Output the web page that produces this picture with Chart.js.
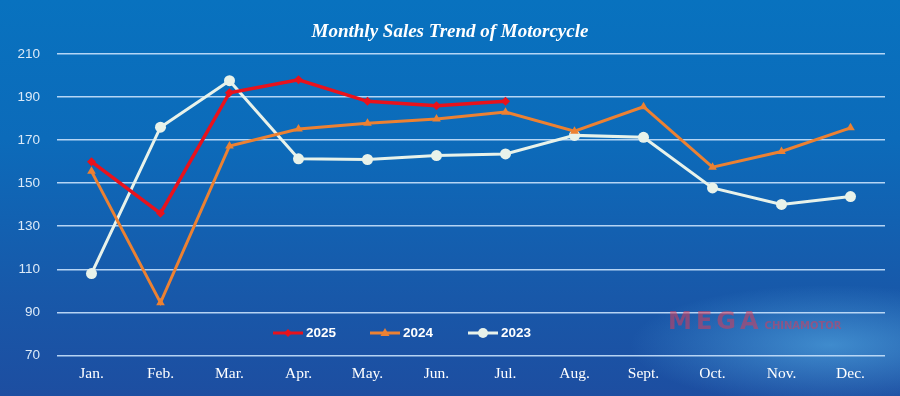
<!DOCTYPE html>
<html>
<head>
<meta charset="utf-8">
<script src="https://cdn.jsdelivr.net/npm/chart.js@4/dist/chart.umd.min.js"></script>
<style>
  html,body{margin:0;padding:0;}
  body{width:900px;height:396px;overflow:hidden;position:relative;
    background:
      radial-gradient(ellipse 200px 60px at 830px 345px, rgba(100,195,245,0.5), rgba(100,195,245,0) 100%),
      linear-gradient(180deg,#0872bf 0%,#0c6bba 35%,#1858a9 75%,#1d4ea1 100%);}
  #wrap{position:absolute;left:0;top:0;width:900px;height:396px;}
  #title{position:absolute;left:0;top:20px;width:900px;text-align:center;color:#fff;
    font-family:"Liberation Serif","DejaVu Serif",serif;font-weight:bold;font-style:italic;font-size:19px;}
  #legend{position:absolute;left:0;top:324px;height:18px;width:900px;}
  .li{position:absolute;top:0;height:18px;}
  .li span{position:absolute;top:0;font-family:"Liberation Sans",Arial,sans-serif;font-weight:bold;font-size:13.5px;color:#fff;line-height:18px;}
  #wm{position:absolute;left:668px;top:307px;color:rgba(215,60,90,0.55);font-family:"DejaVu Sans",sans-serif;white-space:nowrap;}
  #wm b{font-size:24px;letter-spacing:4px;font-weight:bold;}
  #wm i{font-style:normal;font-size:10px;font-weight:bold;margin-left:2px;letter-spacing:0px;}
</style>
</head>
<body>
<div id="wrap"><canvas id="c" width="900" height="396"></canvas></div>
<div id="title">Monthly Sales Trend of Motorcycle</div>
<div id="wm"><b>MEGA</b><i>CHINAMOTOR</i></div>
<div id="legend"></div>
<script>
const months = ["Jan.","Feb.","Mar.","Apr.","May.","Jun.","Jul.","Aug.","Sept.","Oct.","Nov.","Dec."];
const seriesNames = ["2025","2024","2023"];
const sales2025 = [160,136,192,198,188,186,188,null,null,null,null,null];
const sales2024 = [155.5,94.5,167.3,175.2,177.8,179.8,183,174.1,185.5,157.4,164.7,175.7];
const sales2023 = [108,176,197.6,161.3,161,162.8,163.6,172.2,171.3,147.8,140.1,143.8];
const yTicks = [70,90,110,130,150,170,190,210];

const colors = ["#e8121c","#ec8132","#e8f2ea"];
const styles = ["rectRot","triangle","circle"];

const datasets = [
  {label:seriesNames[0],data:sales2025,borderColor:colors[0],backgroundColor:colors[0],borderWidth:3.5,pointStyle:styles[0],pointRadius:4.5,pointBorderWidth:0,tension:0,spanGaps:false},
  {label:seriesNames[1],data:sales2024,borderColor:colors[1],backgroundColor:colors[1],borderWidth:3,pointStyle:styles[1],pointRadius:5,pointBorderWidth:0,tension:0},
  {label:seriesNames[2],data:sales2023,borderColor:colors[2],backgroundColor:colors[2],borderWidth:3,pointStyle:styles[2],pointRadius:5.5,pointBorderWidth:0,tension:0}
];

new Chart(document.getElementById('c'),{
  type:'line',
  data:{labels:months,datasets:datasets},
  options:{
    responsive:false,animation:false,
    layout:{padding:{top:54,right:15,bottom:4,left:0}},
    plugins:{legend:{display:false},title:{display:false},tooltip:{enabled:false}},
    scales:{
      x:{offset:true,
        grid:{display:false,drawTicks:false},border:{display:false},
        ticks:{color:"#ffffff",padding:9,font:{family:"'Liberation Serif','Times New Roman',serif",size:15.5},maxRotation:0,autoSkip:false}},
      y:{min:70,max:210,
        afterBuildTicks:(s)=>{s.ticks=yTicks.map(v=>({value:v}));},
        afterFit:(s)=>{s.width=57;},
        grid:{color:"rgba(200,225,252,0.9)",lineWidth:1.5,drawTicks:false},
        border:{display:false},
        ticks:{color:"#dceaf8",padding:17,font:{family:"'Liberation Sans',Arial,sans-serif",size:13.5}}}
    }
  }
});

// HTML legend built from the series names
const legendPos = [273,370,468];
const lg = document.getElementById('legend');
seriesNames.forEach((n,i)=>{
  const d = document.createElement('div');
  d.className='li';
  d.style.left=legendPos[i]+'px';
  const c = document.createElement('canvas');
  c.width=32;c.height=18;c.style.position='absolute';c.style.left='0';c.style.top='0';
  const x=c.getContext('2d');
  x.strokeStyle=colors[i];x.fillStyle=colors[i];x.lineWidth=3;
  x.beginPath();x.moveTo(0,9);x.lineTo(30,9);x.stroke();
  x.beginPath();
  if(i===0){x.moveTo(15,5);x.lineTo(19,9);x.lineTo(15,13);x.lineTo(11,9);x.closePath();}
  else if(i===1){x.moveTo(15,4);x.lineTo(19.5,12);x.lineTo(10.5,12);x.closePath();}
  else {x.arc(15,9,5,0,Math.PI*2);}
  x.fill();
  d.appendChild(c);
  const s=document.createElement('span');
  s.style.left='33px';s.textContent=n;
  d.appendChild(s);
  lg.appendChild(d);
});
</script>
</body>
</html>
